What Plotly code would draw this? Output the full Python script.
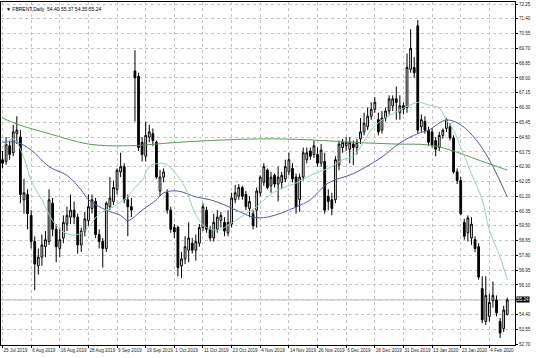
import plotly.graph_objects as go

# ---------------- data ----------------
date_labels = ["25 Jul 2019", "6 Aug 2019", "16 Aug 2019", "28 Aug 2019", "9 Sep 2019",
               "19 Sep 2019", "1 Oct 2019", "11 Oct 2019", "23 Oct 2019", "4 Nov 2019",
               "14 Nov 2019", "26 Nov 2019", "6 Dec 2019", "18 Dec 2019", "31 Dec 2019",
               "13 Jan 2020", "23 Jan 2020", "4 Feb 2020"]
date_label_bars = [0, 8, 16, 24, 32, 40, 48, 56, 64, 72, 80, 88, 96, 104, 112, 120, 128, 136]

opens = [63.3, 63.2, 64.1, 63.7, 64.8, 64.6, 61.0, 61.3, 60.1, 58.6,
         57.2, 57.7, 58.3, 58.6, 60.8, 59.3, 58.2, 58.8, 59.6, 60.0,
         60.4, 60.0, 58.4, 59.2, 59.8, 60.5, 60.9, 59.0, 58.6, 58.2,
         60.6, 60.9, 61.6, 62.6, 62.9, 61.0, 60.6, 68.4, 68.1, 64.3,
         63.5, 64.6, 64.8, 64.3, 61.5, 62.3, 61.4, 60.4, 59.4, 59.4,
         57.2, 57.6, 58.1, 58.5, 58.1, 58.5, 59.4, 60.4, 59.3, 58.8,
         59.3, 59.8, 59.7, 59.1, 59.6, 61.0, 61.2, 61.7, 61.3, 60.5,
         60.2, 60.4, 61.4, 62.0, 62.7, 61.8, 62.4, 61.9, 62.0, 62.2,
         62.6, 62.8, 62.3, 61.0, 62.3, 63.3, 63.8, 63.6, 63.6, 63.1,
         63.2, 61.2, 61.0, 61.0, 63.0, 64.0, 64.1, 63.9, 64.2, 64.0,
         64.5, 64.9, 65.2, 65.8, 66.2, 65.6, 65.0, 65.7, 66.1, 66.4,
         66.8, 66.0, 66.4, 66.3, 68.5, 68.6, 71.0, 65.2, 65.5, 65.0,
         64.9, 64.4, 64.0, 64.7, 65.1, 65.2, 64.55, 62.6, 62.1, 59.7,
         59.1, 58.8, 58.7, 58.3, 55.9, 54.0, 54.3, 55.2, 55.24, 54.0,
         53.6, 54.40]
highs = [63.8, 64.6, 64.4, 65.3, 65.8, 65.0, 62.2, 61.6, 60.4, 58.9,
         58.2, 59.0, 59.2, 61.6, 61.1, 59.6, 59.4, 60.1, 60.6, 61.3,
         60.9, 60.2, 59.4, 60.3, 61.3, 61.3, 61.1, 59.3, 58.8, 60.9,
         62.3, 62.1, 62.8, 63.7, 63.1, 61.3, 61.1, 69.6, 68.3, 64.6,
         65.5, 65.3, 65.1, 64.4, 62.7, 62.8, 61.6, 60.6, 59.6, 59.5,
         58.0, 58.9, 59.7, 58.8, 59.0, 59.6, 60.8, 60.6, 59.5, 60.2,
         60.4, 60.3, 60.0, 60.4, 61.4, 61.85, 61.9, 61.8, 61.5, 61.2,
         60.4, 61.7, 62.4, 63.1, 62.8, 62.6, 62.5, 62.9, 62.6, 63.3,
         63.7, 63.1, 62.5, 62.5, 64.0, 64.0, 64.0, 64.4, 64.0, 64.2,
         63.7, 61.6, 61.4, 63.5, 64.4, 64.5, 64.6, 64.6, 64.4, 64.5,
         65.7, 66.0, 66.3, 66.6, 66.9, 66.0, 66.1, 66.3, 67.0, 67.0,
         67.5, 67.0, 66.6, 69.4, 70.8, 69.2, 71.33, 65.9, 65.8, 65.2,
         65.1, 64.6, 64.9, 65.1, 65.7, 65.4, 64.7, 62.8, 62.3, 59.9,
         60.1, 60.0, 58.9, 58.5, 56.6, 56.6, 55.6, 56.3, 55.5, 54.2,
         54.9, 55.37]
lows = [62.8, 63.0, 63.3, 63.5, 64.2, 60.8, 60.2, 59.3, 58.2, 55.8,
        56.7, 57.2, 57.7, 58.4, 58.9, 57.4, 57.7, 58.5, 59.2, 59.6,
        59.6, 57.9, 58.0, 58.9, 59.5, 60.2, 58.8, 58.2, 57.1, 58.0,
        60.4, 60.7, 61.3, 62.3, 60.8, 58.9, 60.0, 65.5, 63.8, 63.2,
        63.2, 64.3, 64.1, 62.2, 61.2, 62.0, 60.2, 59.1, 58.8, 56.6,
        56.5, 57.3, 57.4, 57.9, 57.5, 58.3, 59.2, 59.1, 58.6, 58.6,
        59.1, 59.4, 58.9, 58.9, 59.4, 60.8, 61.0, 61.0, 60.4, 60.0,
        59.3, 59.4, 61.2, 61.8, 61.6, 61.4, 61.7, 60.9, 61.6, 62.0,
        62.4, 62.0, 60.2, 60.3, 62.1, 63.1, 63.3, 63.4, 62.9, 62.9,
        60.2, 60.4, 60.1, 60.8, 62.7, 63.7, 63.8, 63.1, 63.0, 63.6,
        64.2, 64.7, 65.0, 65.6, 66.0, 64.7, 64.8, 65.5, 65.9, 66.1,
        65.6, 65.6, 65.9, 66.0, 68.3, 68.0, 64.8, 64.9, 64.8, 64.1,
        64.0, 63.5, 63.8, 64.5, 64.9, 64.4, 62.5, 61.9, 60.1, 58.7,
        58.6, 58.4, 58.0, 56.4, 53.9, 53.8, 54.0, 54.8, 54.3, 53.05,
        53.4, 54.35]
closes = [63.1, 64.2, 63.6, 64.9, 65.0, 61.3, 61.4, 60.2, 58.6, 57.3,
          57.7, 58.4, 58.7, 61.0, 59.3, 58.3, 58.7, 59.7, 60.1, 60.4,
          60.0, 58.4, 59.2, 59.9, 60.6, 61.0, 59.0, 58.6, 58.2, 60.8,
          61.1, 61.7, 62.7, 62.9, 61.0, 60.6, 60.4, 68.0, 64.0, 63.6,
          64.7, 64.9, 64.4, 62.3, 62.3, 62.6, 60.4, 59.3, 59.15, 57.1,
          57.6, 58.3, 58.8, 58.1, 58.6, 59.4, 60.6, 59.3, 58.8, 59.7,
          60.0, 60.1, 59.2, 59.7, 61.1, 61.4, 61.7, 61.2, 60.6, 60.9,
          59.5, 61.5, 62.3, 62.9, 61.7, 62.3, 61.9, 62.3, 62.4, 62.9,
          63.3, 62.2, 60.6, 62.3, 63.7, 63.7, 63.5, 64.1, 63.1, 63.85,
          60.4, 60.9, 60.5, 63.3, 64.2, 64.3, 64.3, 64.3, 64.0, 64.3,
          64.9, 65.4, 65.8, 66.2, 66.6, 64.9, 65.7, 66.1, 66.8, 66.8,
          66.6, 66.4, 66.2, 68.6, 69.7, 68.3, 65.0, 65.6, 65.0, 64.3,
          64.15, 63.9, 64.7, 65.0, 65.6, 64.55, 62.6, 62.1, 60.2, 58.9,
          59.95, 59.6, 58.2, 56.56, 54.1, 55.5, 55.1, 55.5, 54.5, 53.34,
          54.66, 55.24]

# moving averages (bar index, value)
ma_fast_bars = [0, 3, 6, 8, 11, 14, 17, 20, 22, 24, 27, 31, 35, 37, 39, 41, 44, 46, 48,
                51, 53, 55, 57, 60, 62, 65, 68, 71, 74, 77, 82, 86, 91, 95, 98, 103, 106,
                111, 114, 116, 119, 122, 124, 126, 128, 131, 134, 136, 139, 141]
ma_fast_vals = [64.0, 64.5, 63.4, 62.1, 61.0, 59.8, 59.15, 58.97, 59.1, 59.4, 60.2, 60.6,
                61.2, 61.7, 62.1, 62.9, 63.1, 63.0, 62.6, 61.7, 60.6, 59.8, 59.4, 59.25,
                59.4, 59.8, 60.2, 60.6, 61.16, 61.56, 61.96, 62.4, 62.8, 63.3, 63.5, 65.0,
                65.58, 66.16, 66.45, 66.6, 66.45, 66.27, 65.58, 65.0, 64.0, 62.5, 61.0,
                59.26, 57.7, 56.4]
ma_mid_bars = [0, 4, 8, 13, 18, 22, 24, 29, 33, 35, 39, 43, 45, 49, 54, 58, 62, 67, 70,
               74, 82, 86, 91, 98, 106, 111, 116, 119, 124, 128, 133, 137, 141]
ma_mid_vals = [64.3, 64.3, 63.86, 62.9, 62.4, 61.56, 61.0, 60.4, 60.1, 59.8, 60.4, 61.0,
               61.4, 61.5, 61.16, 61.0, 60.7, 60.24, 60.0, 60.0, 60.58, 61.0, 61.96, 62.5,
               63.46, 64.26, 64.8, 65.0, 65.58, 65.3, 64.26, 62.9, 61.16]
ma_slow_bars = [0, 4, 13, 24, 35, 49, 58, 73, 85, 98, 110, 119, 125, 133, 141]
ma_slow_vals = [65.7, 65.35, 64.8, 64.2, 64.1, 64.3, 64.4, 64.5, 64.45, 64.3, 64.2, 64.15,
                63.86, 63.28, 62.7]

price_ticks = [52.70, 53.55, 54.40, 55.25, 56.10, 56.95, 57.80, 58.65, 59.50, 60.35,
               61.20, 62.05, 62.90, 63.75, 64.60, 65.45, 66.30, 67.15, 68.00, 68.85,
               69.70, 70.55, 71.40, 72.25]
last_price = 55.24
header = "▼ FBRENT,Daily  54.40 55.37 54.35 55.24"

# ---------------- figure ----------------
FONT = "Liberation Sans"
bars = list(range(len(opens)))

fig = go.Figure()
fig.add_trace(go.Candlestick(
    x=bars, open=opens, high=highs, low=lows, close=closes,
    increasing=dict(line=dict(color="black", width=1), fillcolor="white"),
    decreasing=dict(line=dict(color="black", width=1), fillcolor="black"),
    whiskerwidth=0, showlegend=False, hoverinfo="skip"))

for bx, vals, col in [(ma_slow_bars, ma_slow_vals, "#5a9a5a"),
                      (ma_mid_bars, ma_mid_vals, "#4f5ba3"),
                      (ma_fast_bars, ma_fast_vals, "#93d3a9")]:
    fig.add_trace(go.Scatter(x=bx, y=vals, mode="lines", line=dict(color=col, width=1),
                             line_shape="spline", showlegend=False, hoverinfo="skip"))

tick_text = [("" if abs(v - 55.25) < 1e-6 else f"{v:.2f}") for v in price_ticks]

fig.update_layout(
    width=536, height=358,
    margin=dict(l=1, r=21, t=2, b=13),
    paper_bgcolor="white", plot_bgcolor="white",
    font=dict(family=FONT, size=4.6, color="black"),
    showlegend=False,
    xaxis=dict(range=[-0.42, 143.16], rangeslider=dict(visible=False),
               tickmode="array", tickvals=date_label_bars, ticktext=date_labels,
               ticklabelposition="outside right", tickangle=0, ticks="outside", ticklen=2,
               tickcolor="black", showgrid=True, gridcolor="#c4c4c4", griddash="dot",
               gridwidth=1, showline=True, linecolor="black", linewidth=1, mirror=True,
               zeroline=False, tickfont=dict(size=4.6, color="#222")),
    yaxis=dict(range=[52.65, 72.365], side="right", tickmode="array",
               tickvals=price_ticks, ticktext=tick_text, ticks="outside", ticklen=2,
               tickcolor="black", showgrid=True, gridcolor="#c4c4c4", griddash="dot",
               gridwidth=1, showline=True, linecolor="black", linewidth=1, mirror=True,
               zeroline=False, tickfont=dict(size=4.6, color="#222")),
)

fig.add_shape(type="line", xref="paper", x0=0, x1=1, yref="y", y0=last_price, y1=last_price,
              line=dict(color="#b8b8b8", width=1), layer="below")
fig.add_annotation(xref="paper", x=1, yref="y", y=last_price, text=f"{last_price:.2f}",
                   showarrow=False, xanchor="left", xshift=1, bgcolor="black",
                   font=dict(color="white", size=4.6, family=FONT), borderpad=0)
fig.add_annotation(xref="paper", x=0, yref="paper", y=1, text=header, showarrow=False,
                   xanchor="left", yanchor="top", xshift=3, yshift=-2,
                   font=dict(size=5, color="black", family=FONT))

fig.write_html("out.html")
